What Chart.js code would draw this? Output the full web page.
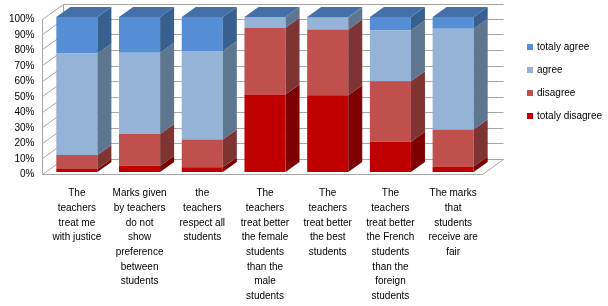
<!DOCTYPE html>
<html>
<head>
<meta charset="utf-8">
<style>
  html, body { margin:0; padding:0; background:#fff; }
  #wrap { width:608px; height:306px; position:relative; }
</style>
<script src="https://cdn.jsdelivr.net/npm/chart.js@4/dist/chart.umd.min.js"></script>
</head>
<body>
<div id="wrap"><canvas id="chart"></canvas></div>
<script>
'use strict';

// ---- data (percent of answers) ----
const categories = [
  ['The', 'teachers', 'treat me', 'with justice'],
  ['Marks given', 'by teachers', 'do not', 'show', 'preference', 'between', 'students'],
  ['the', 'teachers', 'respect all', 'students'],
  ['The', 'teachers', 'treat better', 'the female', 'students', 'than the', 'male', 'students'],
  ['The', 'teachers', 'treat better', 'the best', 'students'],
  ['The', 'teachers', 'treat better', 'the French', 'students', 'than the', 'foreign', 'students'],
  ['The marks', 'that', 'students', 'receive are', 'fair'],
];
const totalyDisagree = [2, 4, 3, 50, 49.5, 19.5, 3.5];
const disagree       = [9, 20.5, 18, 43, 42.5, 39, 24];
const agree          = [65.5, 52.5, 57, 7, 7.5, 33, 65];
const totalyAgree    = [23.5, 23, 22, 0, 0.5, 8.5, 7.5];
const yTicks = [0, 10, 20, 30, 40, 50, 60, 70, 80, 90, 100];

// front / side / top shades per series
const shades = {
  'totaly disagree': { front: '#C00000', side: '#7F0000', top: '#A00000' },
  'disagree':        { front: '#C0504D', side: '#7E3432', top: '#A14240' },
  'agree':           { front: '#95B3D7', side: '#5E7690', top: '#7C96B6' },
  'totaly agree':    { front: '#558ED5', side: '#38608F', top: '#4370A9' },
};

const DX = 14, DY = -10;          // bar depth
const WALL_DX = 21, WALL_DY = -15; // wall depth
const GRID = '#A6A6A6';

// fake 3d: walls + grid behind, side/top faces after the bars
const box3d = {
  id: 'box3d',
  beforeDatasetsDraw(chart) {
    const { ctx, chartArea: ca, scales: { y } } = chart;
    const fx = Math.round(ca.left - 4) + 0.5;
    const rx = Math.round(ca.right - 3) + 0.5;
    const fy = v => Math.round(y.getPixelForValue(v) + 1.5) + 0.5;
    ctx.save();
    ctx.strokeStyle = GRID;
    ctx.lineWidth = 1;
    ctx.beginPath();
    yTicks.forEach(v => {
      const a = fy(v);
      ctx.moveTo(fx, a);
      ctx.lineTo(fx + WALL_DX, a + WALL_DY);
      ctx.lineTo(rx + WALL_DX, a + WALL_DY);
    });
    // wall edges
    ctx.moveTo(fx, fy(100)); ctx.lineTo(fx, fy(0));
    ctx.moveTo(fx + WALL_DX, fy(100) + WALL_DY); ctx.lineTo(fx + WALL_DX, fy(0) + WALL_DY);
    // floor
    ctx.moveTo(fx, fy(0)); ctx.lineTo(rx, fy(0)); ctx.lineTo(rx + WALL_DX, fy(0) + WALL_DY);
    ctx.stroke();
    ctx.restore();
  },
  afterDatasetsDraw(chart) {
    const { ctx } = chart;
    const n = chart.data.labels.length;
    ctx.save();
    for (let i = 0; i < n; i++) {
      let topY = Infinity, left = 0, right = 0;
      chart.data.datasets.forEach((ds, di) => {
        const el = chart.getDatasetMeta(di).data[i];
        const x0 = el.x - el.width / 2, x1 = el.x + el.width / 2;
        const yt = Math.min(el.y, el.base), yb = Math.max(el.y, el.base);
        left = x0; right = x1;
        if (yt < topY) topY = yt;
        if (yb - yt < 0.01) return;
        ctx.fillStyle = shades[ds.label].side;
        ctx.beginPath();
        ctx.moveTo(x1, yt);
        ctx.lineTo(x1 + DX, yt + DY);
        ctx.lineTo(x1 + DX, yb + DY);
        ctx.lineTo(x1, yb);
        ctx.closePath();
        ctx.fill();
      });
      ctx.fillStyle = shades['totaly agree'].top;
      ctx.beginPath();
      ctx.moveTo(left, topY);
      ctx.lineTo(right, topY);
      ctx.lineTo(right + DX, topY + DY);
      ctx.lineTo(left + DX, topY + DY);
      ctx.closePath();
      ctx.fill();
    }
    ctx.restore();
  },
  afterDraw(chart) {
    // legend, top series first
    const { ctx } = chart;
    const items = chart.data.datasets.slice().reverse();
    ctx.save();
    ctx.font = '10px "Liberation Sans", Arial, sans-serif';
    ctx.textBaseline = 'middle';
    items.forEach((ds, k) => {
      const cy = 47 + k * 23;
      ctx.fillStyle = shades[ds.label].front;
      ctx.fillRect(527, cy - 3, 6, 6);
      ctx.fillStyle = '#000';
      ctx.fillText(ds.label, 537, cy);
    });
    ctx.restore();
  }
};

const series = [
  ['totaly disagree', totalyDisagree],
  ['disagree', disagree],
  ['agree', agree],
  ['totaly agree', totalyAgree],
];

new Chart(document.getElementById('chart'), {
  type: 'bar',
  data: {
    labels: categories,
    datasets: series.map(([label, values]) => ({
      label,
      data: values,
      backgroundColor: shades[label].front,
      borderWidth: 0,
      barPercentage: 0.655,
      categoryPercentage: 1,
    })),
  },
  options: {
    responsive: true,
    maintainAspectRatio: false,
    animation: false,
    layout: { padding: { top: 17, right: 123.5, left: 0, bottom: 0 } },
    plugins: { legend: { display: false }, tooltip: { enabled: false } },
    scales: {
      x: {
        stacked: true,
        grid: { display: false, drawTicks: false },
        border: { display: false },
        ticks: {
          color: '#000', maxRotation: 0, minRotation: 0, autoSkip: false, padding: 14,
          font: { family: '"Liberation Sans", Arial, sans-serif', size: 10, lineHeight: 1.47 },
        },
        afterFit(axis) { axis.height = 134; },
      },
      y: {
        stacked: true,
        min: 0, max: 100,
        grid: { display: false, drawTicks: false },
        border: { display: false },
        ticks: {
          stepSize: 10, color: '#000', padding: 11, labelOffset: 2.5,
          font: { family: '"Liberation Sans", Arial, sans-serif', size: 10 },
          callback: v => v + '%',
        },
        afterFit(axis) { axis.width = 45.5; },
      },
    },
  },
  plugins: [box3d],
});
</script>
</body>
</html>
